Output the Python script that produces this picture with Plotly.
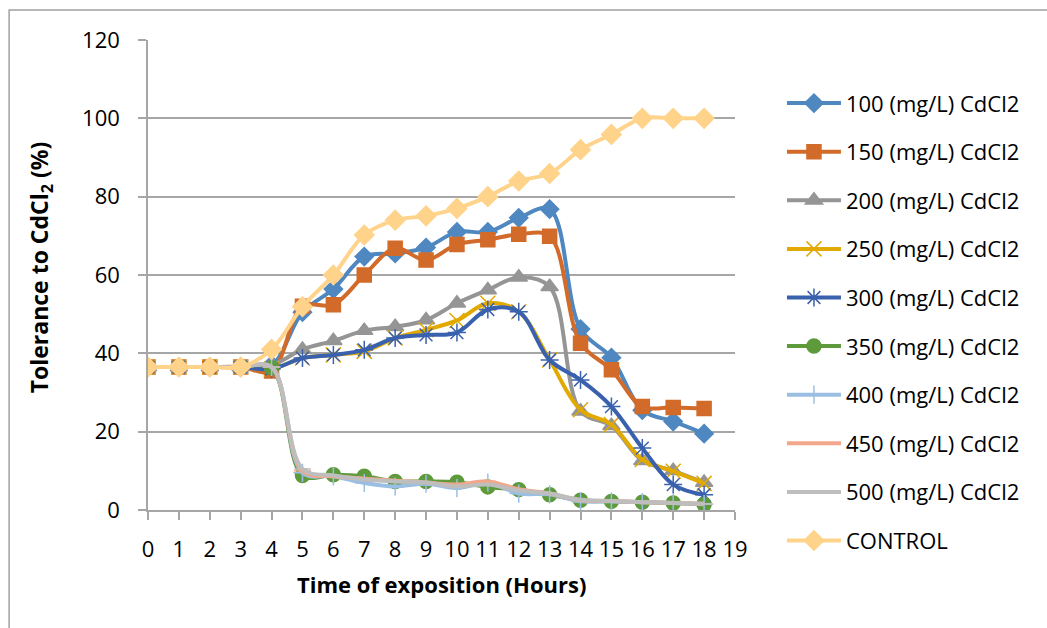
import plotly.graph_objects as go

hours = list(range(0, 19))

s100 = [36.5, 36.5, 36.5, 36.5, 37.0, 50.5, 56.4, 64.7, 65.5, 67.0, 71.0, 71.0, 74.6, 76.8, 46.2, 38.9, 25.5, 22.6, 19.5]
s150 = [36.5, 36.5, 36.5, 36.5, 35.5, 52.0, 52.4, 60.0, 66.8, 63.8, 67.8, 69.0, 70.4, 69.9, 42.6, 35.8, 26.4, 26.2, 25.9]
s200 = [36.5, 36.5, 36.5, 36.5, 37.0, 41.0, 43.2, 45.8, 46.8, 48.5, 52.8, 56.2, 59.4, 57.0, 25.2, 21.5, 12.6, 10.0, 7.0]
s250 = [36.5, 36.5, 36.5, 36.5, 36.0, 38.8, 39.6, 40.5, 43.9, 46.0, 48.4, 52.8, 50.6, 38.3, 25.6, 21.8, 12.9, 9.9, 6.8]
s300 = [36.5, 36.5, 36.5, 36.5, 36.0, 38.8, 39.6, 40.9, 43.9, 44.7, 45.3, 51.2, 50.6, 38.3, 33.2, 26.4, 15.8, 6.5, 3.9]
s350 = [36.5, 36.5, 36.5, 36.5, 36.3, 8.8, 9.0, 8.6, 7.3, 7.3, 7.1, 5.9, 5.2, 3.9, 2.5, 2.2, 2.0, 1.8, 1.4]
s400 = [36.5, 36.5, 36.5, 36.5, 36.5, 9.5, 8.6, 6.9, 6.0, 6.7, 5.6, 7.0, 4.2, 4.0, 2.2, 2.2, 2.0, 1.8, 1.5]
s450 = [36.5, 36.5, 36.5, 36.5, 36.5, 10.0, 8.6, 8.0, 7.5, 7.0, 6.5, 7.3, 5.3, 4.2, 2.5, 2.3, 2.0, 1.8, 1.6]
s500 = [36.5, 36.5, 36.5, 36.5, 36.5, 10.5, 8.8, 7.8, 7.3, 7.0, 6.0, 6.5, 5.0, 4.2, 2.6, 2.3, 2.0, 1.8, 1.6]
control = [36.5, 36.5, 36.5, 36.5, 41.0, 51.9, 60.0, 70.2, 74.0, 75.1, 77.0, 80.0, 84.0, 85.9, 92.0, 95.9, 100.0, 100.0, 100.0]

names = ["100 (mg/L) CdCl2", "150 (mg/L) CdCl2", "200 (mg/L) CdCl2", "250 (mg/L) CdCl2",
         "300 (mg/L) CdCl2", "350 (mg/L) CdCl2", "400 (mg/L) CdCl2", "450 (mg/L) CdCl2",
         "500 (mg/L) CdCl2", "CONTROL"]
series = [s100, s150, s200, s250, s300, s350, s400, s450, s500, control]

x_ticks = list(range(0, 20))
y_ticks = [0, 20, 40, 60, 80, 100, 120]

colors = ["#4F88C0", "#D26B29", "#959595", "#E2A900", "#3A61AD",
          "#5E9A3C", "#9BBFE3", "#F2A78A", "#BEBEBE", "#FFD38A"]
symbols = ["diamond", "square", "triangle-up", "x-thin-open", "asterisk-open",
           "circle", "cross-thin-open", "line-ew-open", "line-ew-open", "diamond"]
sizes = [14, 14, 15, 15, 15, 14, 13, 12, 12, 15]

FONT = "Open Sans"

fig = go.Figure()
for i, (nm, ys) in enumerate(zip(names, series)):
    fig.add_trace(go.Scatter(
        x=hours, y=ys, name=nm, mode="lines+markers",
        legendgroup=f"g{i}",
        line=dict(color=colors[i], width=4, shape="spline", smoothing=1.0),
        marker=dict(symbol=symbols[i], size=sizes[i], color=colors[i],
                    line=dict(color=colors[i], width=1.5)),
    ))

axis_gray = "#A6A6A6"
fig.update_layout(
    width=1047, height=628,
    margin=dict(l=147.5, r=312, t=40, b=117.5, autoexpand=False),
    paper_bgcolor="white", plot_bgcolor="white",
    font=dict(family=FONT, size=22, color="black"),
    showlegend=True,
    legend=dict(x=1.080, y=0.91, xanchor="left", yanchor="top",
                font=dict(family=FONT, size=22, color="black"),
                tracegroupgap=17, itemwidth=54, bgcolor="rgba(0,0,0,0)",
                maxheight=620),
    xaxis=dict(range=[0, 19], tickmode="array", tickvals=x_ticks,
               ticktext=[str(v) for v in x_ticks],
               showgrid=False, zeroline=False, showline=True, linecolor=axis_gray,
               linewidth=1.5, ticks="outside", ticklen=8, tickcolor=axis_gray,
               tickwidth=1.5, ticklabelstandoff=11,
               tickfont=dict(family=FONT, size=22, color="black")),
    yaxis=dict(range=[0, 120], tickmode="array", tickvals=y_ticks,
               ticktext=[str(v) for v in y_ticks],
               showgrid=True, gridcolor=axis_gray, gridwidth=1.5, zeroline=False,
               showline=True, linecolor=axis_gray, linewidth=1.5,
               ticks="outside", ticklen=8, tickcolor=axis_gray, tickwidth=1.5,
               ticklabelstandoff=14,
               tickfont=dict(family=FONT, size=22, color="black")),
    annotations=[
        dict(text="<b>Time of exposition (Hours)</b>", xref="paper", yref="paper",
             x=0.5, y=(510.5 - 585) / 470.5, xanchor="center", yanchor="middle",
             showarrow=False, font=dict(family=FONT, size=22, color="black")),
        dict(text="<b>Tolerance to CdCl<sub>2</sub> (%)</b>", xref="paper", yref="paper",
             x=(40 - 147.5) / 587.5, y=(510.5 - 268) / 470.5, xanchor="center", yanchor="middle",
             textangle=-90, showarrow=False, font=dict(family=FONT, size=23, color="black")),
    ],
    shapes=[
        dict(type="rect", xref="paper", yref="paper",
             x0=(8.5 - 147.5) / 587.5, x1=(1070 - 147.5) / 587.5,
             y0=(510.5 - 650) / 470.5, y1=(510.5 - 10) / 470.5,
             line=dict(color="#A0A0A0", width=1.5), fillcolor="rgba(0,0,0,0)", layer="below"),
    ],
)

fig.write_html("out.html")
